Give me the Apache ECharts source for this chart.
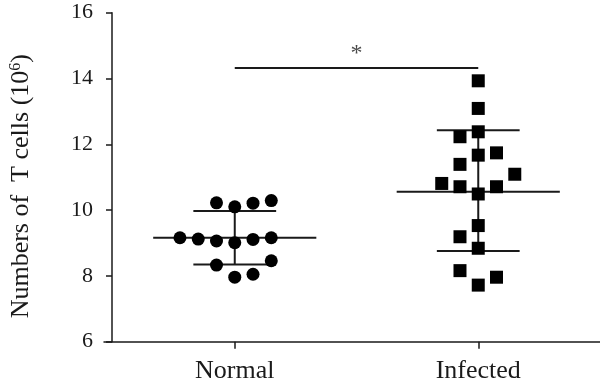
<!DOCTYPE html>
<html>
<head>
<meta charset="utf-8">
<script src="https://cdn.jsdelivr.net/npm/echarts@6/dist/echarts.min.js"></script>
<style>html,body{margin:0;padding:0;background:#fff}#c{width:600px;height:388px}</style>
</head>
<body>
<div id="c"></div>
<script>
// ---- data ----
const categories = ['Normal', 'Infected'];
const yTicks = [6, 8, 10, 12, 14, 16];
// each point: [jitter column, value]
const normalPoints = [
  [-1, 10.22], [0, 10.10], [1, 10.21], [2, 10.29],
  [-3, 9.16], [-2, 9.12], [-1, 9.06], [0, 9.01], [1, 9.11], [2, 9.16],
  [-1, 8.33], [0, 7.96], [1, 8.05], [2, 8.46]
];
const infectedPoints = [
  [0, 13.93], [0, 13.09], [0, 12.38], [-1, 12.23], [0, 11.67], [1, 11.74],
  [-1, 11.39], [2, 11.09], [-2, 10.81], [-1, 10.71], [1, 10.71], [0, 10.49],
  [0, 9.53], [-1, 9.19], [0, 8.84], [-1, 8.16], [0, 7.72], [1, 7.96]
];
const means = [9.16, 10.56];
const upperBars = [9.97, 12.43];
const lowerBars = [8.35, 8.76];
const sigY = 14.32;
const sigLabel = '*';

// ---- chart ----
const FONT = 'Liberation Serif';
const JIT = 0.075, MEANW = 0.335, CAPW = 0.17;
const toXY = (pts, c) => pts.map(p => [c + p[0] * JIT, p[1]]);

const lineSeries = [];
function seg(a, b) {
  lineSeries.push({
    type: 'line', data: [a, b], symbol: 'none', silent: true, z: 1,
    lineStyle: { color: '#1a1a1a', width: 2 }
  });
}
categories.forEach((_, c) => {
  seg([c - MEANW, means[c]], [c + MEANW, means[c]]);
  seg([c, lowerBars[c]], [c, upperBars[c]]);
  seg([c - CAPW, upperBars[c]], [c + CAPW, upperBars[c]]);
  seg([c - CAPW, lowerBars[c]], [c + CAPW, lowerBars[c]]);
});
seg([0, sigY], [1, sigY]);

const chart = echarts.init(document.getElementById('c'), null, { renderer: 'canvas' });
chart.setOption({
  animation: false,
  grid: { left: 102, right: 0, top: 12.7, bottom: 46.3 },
  xAxis: {
    type: 'value', min: -0.537, max: 1.5,
    splitLine: { show: false },
    axisLine: { onZero: false, lineStyle: { color: '#1a1a1a', width: 1.5 } },
    axisTick: { customValues: [0, 1], length: 7, lineStyle: { color: '#1a1a1a', width: 1.5 } },
    axisLabel: {
      customValues: [0, 1], margin: 16,
      formatter: v => categories[Math.round(v)] || '',
      fontFamily: FONT, fontSize: 26, color: '#1a1a1a'
    }
  },
  yAxis: {
    type: 'value', min: yTicks[0], max: yTicks[yTicks.length - 1], interval: 2,
    offset: -8,
    splitLine: { show: false },
    axisLine: { show: true, onZero: false, lineStyle: { color: '#1a1a1a', width: 1.5 } },
    axisTick: { show: true, length: 6, lineStyle: { color: '#1a1a1a', width: 1.5 } },
    axisLabel: { margin: 19, fontFamily: FONT, fontSize: 22, color: '#1a1a1a' },
    name: 'Numbers of  T cells (10{sup|6})',
    nameLocation: 'middle', nameGap: 78,
    nameTextStyle: {
      fontFamily: FONT, fontSize: 26, color: '#1a1a1a', padding: [0, 18, 0, 0],
      rich: { sup: { fontFamily: FONT, fontSize: 16, color: '#1a1a1a', verticalAlign: 'top', padding: [0, 0, 9, 0] } }
    }
  },
  series: [
    ...lineSeries,
    {
      type: 'scatter', data: toXY(normalPoints, 0), symbol: 'circle', symbolSize: 13,
      itemStyle: { color: '#000', opacity: 1 }, z: 3
    },
    {
      type: 'scatter', data: toXY(infectedPoints, 1), symbol: 'rect', symbolSize: 13,
      itemStyle: { color: '#000', opacity: 1 }, z: 3
    },
    {
      type: 'scatter', data: [[0.5, sigY]], symbolSize: 0, silent: true,
      label: { show: true, formatter: sigLabel, position: 'top', distance: 2,
        fontFamily: FONT, fontSize: 24, color: '#1a1a1a' }
    }
  ]
});
</script>
</body>
</html>
